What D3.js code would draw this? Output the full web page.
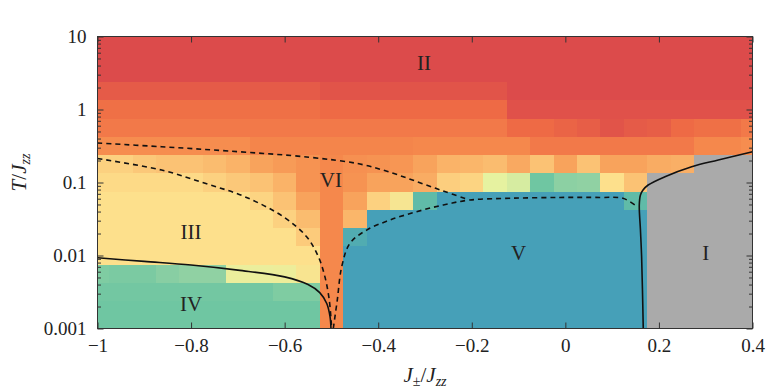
<!DOCTYPE html>
<html>
<head>
<meta charset="utf-8">
<script src="https://cdn.jsdelivr.net/npm/d3@7"></script>
<style>
  body { margin: 0; background: #fff; }
  svg { display: block; }
  text { font-family: "Liberation Serif", "DejaVu Serif", serif; fill: #222; }
</style>
</head>
<body>
<svg width="768" height="390"></svg>
<script>
// DATA
const jGrid = [-1, -0.95, -0.9, -0.85, -0.8, -0.75, -0.7, -0.65, -0.6, -0.55, -0.5, -0.45, -0.4, -0.35,
    -0.3, -0.25, -0.2, -0.15, -0.1, -0.05, 0, 0.05, 0.1, 0.15, 0.2, 0.25, 0.3, 0.35, 0.4];
const tGrid = [10, 5.623, 3.162, 1.778, 1, 0.5623, 0.3162, 0.1778, 0.1, 0.05623, 0.03162, 0.01778,
    0.01, 0.005623, 0.003162, 0.001778, 0.001];

// one row per temperature (top = T 10), one value per J; null = phase I (grey)
const phaseValues = [
    [0,0,0,0,0,0,0,0,0,0,0,0,0,0,0,0,0,0,0,0,0,0,0,0,0,0,0,0,0],
    [0,0,0,0,0,0,0,0,0,0,0,0,0,0,0,0,0,0,0,0,0,0,0,0,0,0,0,0,0],
    [0,0,0,0,0,0,0,0,0,0,0,0,0,0,0,0,0,0,0,0,0,0,0,0,0,0,0,0,0],
    [.05,.05,.05,.05,.05,.05,.05,.05,.05,.05,.03,.03,.03,.03,.03,.03,.03,.03,0,0,0,0,0,0,0,0,0,0,0],
    [.12,.12,.12,.12,.12,.12,.12,.12,.12,.12,.1,.1,.1,.1,.1,.1,.1,.1,.02,.02,.02,.02,.02,.02,.02,.02,.02,.02,.02],
    [.15,.15,.15,.15,.15,.15,.15,.15,.15,.15,.15,.15,.15,.15,.15,.15,.15,.15,.1,.1,.08,.06,.03,.05,.06,.1,.12,.12,.15],
    [.22,.22,.22,.22,.22,.22,.22,.19,.19,.19,.19,.19,.19,.19,.2,.2,.2,.2,.2,.15,.15,.15,.15,.15,.15,.15,.2,.2,.22],
    [.45,.45,.42,.4,.4,.38,.35,.3,.27,.24,.2,.23,.24,.25,.3,.35,.36,.38,.32,.4,.3,.4,.3,.3,.33,.34,null,null,null],
    [.48,.48,.48,.48,.48,.45,.42,.4,.35,.24,.2,.24,.3,.3,.33,.44,.46,.6,.62,.8,.73,.72,.5,.4,null,null,null,null,null],
    [.5,.5,.5,.5,.5,.5,.5,.46,.4,.3,.2,.3,.45,.53,.88,1,1,1,1,1,1,1,1,.88,null,null,null,null,null],
    [.5,.5,.5,.5,.5,.5,.5,.5,.45,.38,.2,.36,1,1,1,1,1,1,1,1,1,1,1,1,null,null,null,null,null],
    [.5,.5,.5,.5,.5,.5,.5,.5,.5,.43,.2,.95,1,1,1,1,1,1,1,1,1,1,1,1,null,null,null,null,null],
    [.5,.5,.5,.5,.5,.5,.5,.5,.5,.5,.2,1,1,1,1,1,1,1,1,1,1,1,1,1,null,null,null,null,null],
    [.76,.77,.77,.74,.72,.72,.58,.58,.57,.52,.2,1,1,1,1,1,1,1,1,1,1,1,1,1,null,null,null,null,null],
    [.79,.79,.79,.79,.79,.79,.79,.79,.76,.76,.2,1,1,1,1,1,1,1,1,1,1,1,1,1,null,null,null,null,null],
    [.8,.8,.8,.8,.8,.8,.8,.8,.8,.8,.2,1,1,1,1,1,1,1,1,1,1,1,1,1,null,null,null,null,null],
    [.8,.8,.8,.8,.8,.8,.8,.8,.8,.8,.2,1,1,1,1,1,1,1,1,1,1,1,1,1,null,null,null,null,null]
];

// phase boundaries [J, T]
const boundaryIII_IV = [[-1, 0.0093], [-0.9, 0.0083], [-0.8, 0.0074], [-0.7, 0.0063], [-0.6, 0.0051],
    [-0.55, 0.0040], [-0.525, 0.0031], [-0.51, 0.0022], [-0.503, 0.00145], [-0.501, 0.001]];
const boundaryV_I = [[0.1665, 0.001], [0.1648, 0.00337], [0.163, 0.0096], [0.1605, 0.0224], [0.158, 0.0492],
    [0.1605, 0.0675], [0.166, 0.0789], [0.177, 0.0924], [0.2129, 0.12], [0.27, 0.1644], [0.3268, 0.203], [0.4, 0.264]];
const crossoverUpper = [[-1, 0.3475], [-0.863, 0.309], [-0.72, 0.27], [-0.548, 0.222], [-0.439, 0.179],
    [-0.368, 0.1336], [-0.311, 0.0994], [-0.261, 0.0765], [-0.211, 0.0594]];
const crossoverLeft = [[-1, 0.213], [-0.863, 0.148], [-0.77, 0.0975], [-0.685, 0.0638], [-0.603, 0.034],
    [-0.553, 0.0181], [-0.528, 0.00964], [-0.514, 0.00513], [-0.5046, 0.00245], [-0.4995, 0.001]];
const crossoverV = [[-0.496, 0.001], [-0.4875, 0.00245], [-0.478, 0.00703], [-0.4604, 0.0147], [-0.4247, 0.0223],
    [-0.375, 0.0306], [-0.318, 0.0398], [-0.261, 0.0492], [-0.204, 0.0576], [-0.118, 0.0608], [-0.0115, 0.0624],
    [0.074, 0.0624], [0.123, 0.0608], [0.1488, 0.0492]];

const phaseLabels = [
    { name: "II", j: -0.302, t: 4.4 },
    { name: "VI", j: -0.501, t: 0.108 },
    { name: "III", j: -0.8, t: 0.0212 },
    { name: "IV", j: -0.8, t: 0.00217 },
    { name: "V", j: -0.1, t: 0.011 },
    { name: "I", j: 0.3, t: 0.011 }
];

const xTicks = [-1, -0.8, -0.6, -0.4, -0.2, 0, 0.2, 0.4];
const xTickLabels = ["\u22121", "\u22120.8", "\u22120.6", "\u22120.4", "\u22120.2", "0", "0.2", "0.4"];
const yTicks = [0.001, 0.01, 0.1, 1, 10];
const yTickLabels = ["0.001", "0.01", "0.1", "1", "10"];

// LAYOUT
const svg = d3.select("svg");
const margin = { top: 36.5, right: 15.5, bottom: 61.5, left: 97.5 };
const width = 768 - margin.left - margin.right;
const height = 390 - margin.top - margin.bottom;

const chart = svg.append("g")
    .attr("transform", `translate(${margin.left},${margin.top})`);

// SCALES
const xScale = d3.scaleLinear().domain([-1, 0.4]).range([0, width]);
const yScale = d3.scaleLog().domain([0.001, 10]).range([height, 0]);
const color = d3.scaleLinear()
    .domain([0, 0.1, 0.2, 0.3, 0.4, 0.5, 0.6, 0.7, 0.8, 0.9, 1])
    .range(["#dc4b4b", "#ee6a45", "#f5884c", "#f8a35c", "#fbc274", "#fde08c",
            "#e6f2a0", "#98d4a3", "#6fc6a2", "#5cb8aa", "#46a0b8"]);

// cell edges halfway between grid points (geometric for T)
const colEdges = jGrid.map((j, i) => [
    i === 0 ? -1 : (jGrid[i - 1] + j) / 2,
    i === jGrid.length - 1 ? 0.4 : (j + jGrid[i + 1]) / 2
]);
const rowEdges = tGrid.map((t, i) => [
    i === 0 ? 10 : Math.sqrt(tGrid[i - 1] * t),
    i === tGrid.length - 1 ? 0.001 : Math.sqrt(t * tGrid[i + 1])
]);

const cells = [];
phaseValues.forEach((row, r) => row.forEach((v, c) => cells.push({ r, c, v })));

// HEATMAP
chart.append("g")
    .selectAll("rect")
    .data(cells)
    .enter()
    .append("rect")
    .attr("x", d => xScale(colEdges[d.c][0]))
    .attr("width", d => xScale(colEdges[d.c][1]) - xScale(colEdges[d.c][0]))
    .attr("y", d => yScale(rowEdges[d.r][0]))
    .attr("height", d => yScale(rowEdges[d.r][1]) - yScale(rowEdges[d.r][0]))
    .attr("fill", d => d.v === null ? "#aaaaaa" : color(d.v))
    .attr("shape-rendering", "crispEdges");

// BOUNDARY LINES
const line = d3.line()
    .x(d => xScale(d[0]))
    .y(d => yScale(d[1]))
    .curve(d3.curveCatmullRom.alpha(0.5));

[boundaryIII_IV, boundaryV_I].forEach(pts => {
    chart.append("path")
        .attr("d", line(pts))
        .attr("fill", "none")
        .attr("stroke", "#111")
        .attr("stroke-width", 1.6);
});

[crossoverUpper, crossoverLeft, crossoverV].forEach(pts => {
    chart.append("path")
        .attr("d", line(pts))
        .attr("fill", "none")
        .attr("stroke", "#111")
        .attr("stroke-width", 1.6)
        .attr("stroke-dasharray", "5,4");
});

// PHASE LABELS
chart.selectAll("text.phase")
    .data(phaseLabels)
    .enter()
    .append("text")
    .attr("class", "phase")
    .attr("x", d => xScale(d.j))
    .attr("y", d => yScale(d.t))
    .attr("dy", "0.35em")
    .attr("text-anchor", "middle")
    .attr("font-size", "21px")
    .text(d => d.name);

// AXES (ticks pointing inward)
const minorT = [];
[0.001, 0.01, 0.1, 1].forEach(dec => [2, 3, 4, 5, 6, 7, 8, 9].forEach(m => minorT.push(dec * m)));

function styleAxis(g) {
    g.select(".domain").remove();
    g.selectAll(".tick line").attr("stroke", "#333");
    g.selectAll(".tick text")
        .attr("font-family", "Liberation Serif, DejaVu Serif, serif")
        .attr("font-size", "19px")
        .attr("fill", "#222");
}

chart.append("g")
    .attr("transform", `translate(0,${height})`)
    .call(d3.axisBottom(xScale).tickValues(xTicks).tickSize(-6).tickPadding(10)
        .tickFormat((d, i) => xTickLabels[i]))
    .call(styleAxis);

chart.append("g")
    .call(d3.axisTop(xScale).tickValues(xTicks).tickSize(-6).tickFormat(""))
    .call(styleAxis);

chart.append("g")
    .call(d3.axisLeft(yScale).tickValues(yTicks).tickSize(-6).tickPadding(11)
        .tickFormat((d, i) => yTickLabels[i]))
    .call(styleAxis);

chart.append("g")
    .call(d3.axisLeft(yScale).tickValues(minorT).tickSize(-3.5).tickFormat(""))
    .call(styleAxis);

chart.append("g")
    .attr("transform", `translate(${width},0)`)
    .call(d3.axisRight(yScale).tickValues(yTicks).tickSize(-6).tickFormat(""))
    .call(styleAxis);

chart.append("g")
    .attr("transform", `translate(${width},0)`)
    .call(d3.axisRight(yScale).tickValues(minorT).tickSize(-3.5).tickFormat(""))
    .call(styleAxis);

// FRAME
chart.append("rect")
    .attr("width", width)
    .attr("height", height)
    .attr("fill", "none")
    .attr("stroke", "#333")
    .attr("stroke-width", 1);

// AXIS TITLES
const xTitle = svg.append("text")
    .attr("x", margin.left + width / 2)
    .attr("y", 382)
    .attr("text-anchor", "middle")
    .attr("font-size", "21px");
xTitle.append("tspan").attr("font-style", "italic").text("J");
xTitle.append("tspan").attr("font-size", "14px").attr("dy", 4).text("\u00b1");
xTitle.append("tspan").attr("dy", -4).text("/");
xTitle.append("tspan").attr("font-style", "italic").text("J");
xTitle.append("tspan").attr("font-size", "14px").attr("font-style", "italic").attr("dy", 4).text("zz");

const yTitle = svg.append("text")
    .attr("transform", `translate(26,${margin.top + height / 2 - 10}) rotate(-90)`)
    .attr("text-anchor", "middle")
    .attr("font-size", "21px");
yTitle.append("tspan").attr("font-style", "italic").text("T");
yTitle.append("tspan").text("/");
yTitle.append("tspan").attr("font-style", "italic").text("J");
yTitle.append("tspan").attr("font-size", "14px").attr("font-style", "italic").attr("dy", 4).text("zz");
</script>
</body>
</html>
